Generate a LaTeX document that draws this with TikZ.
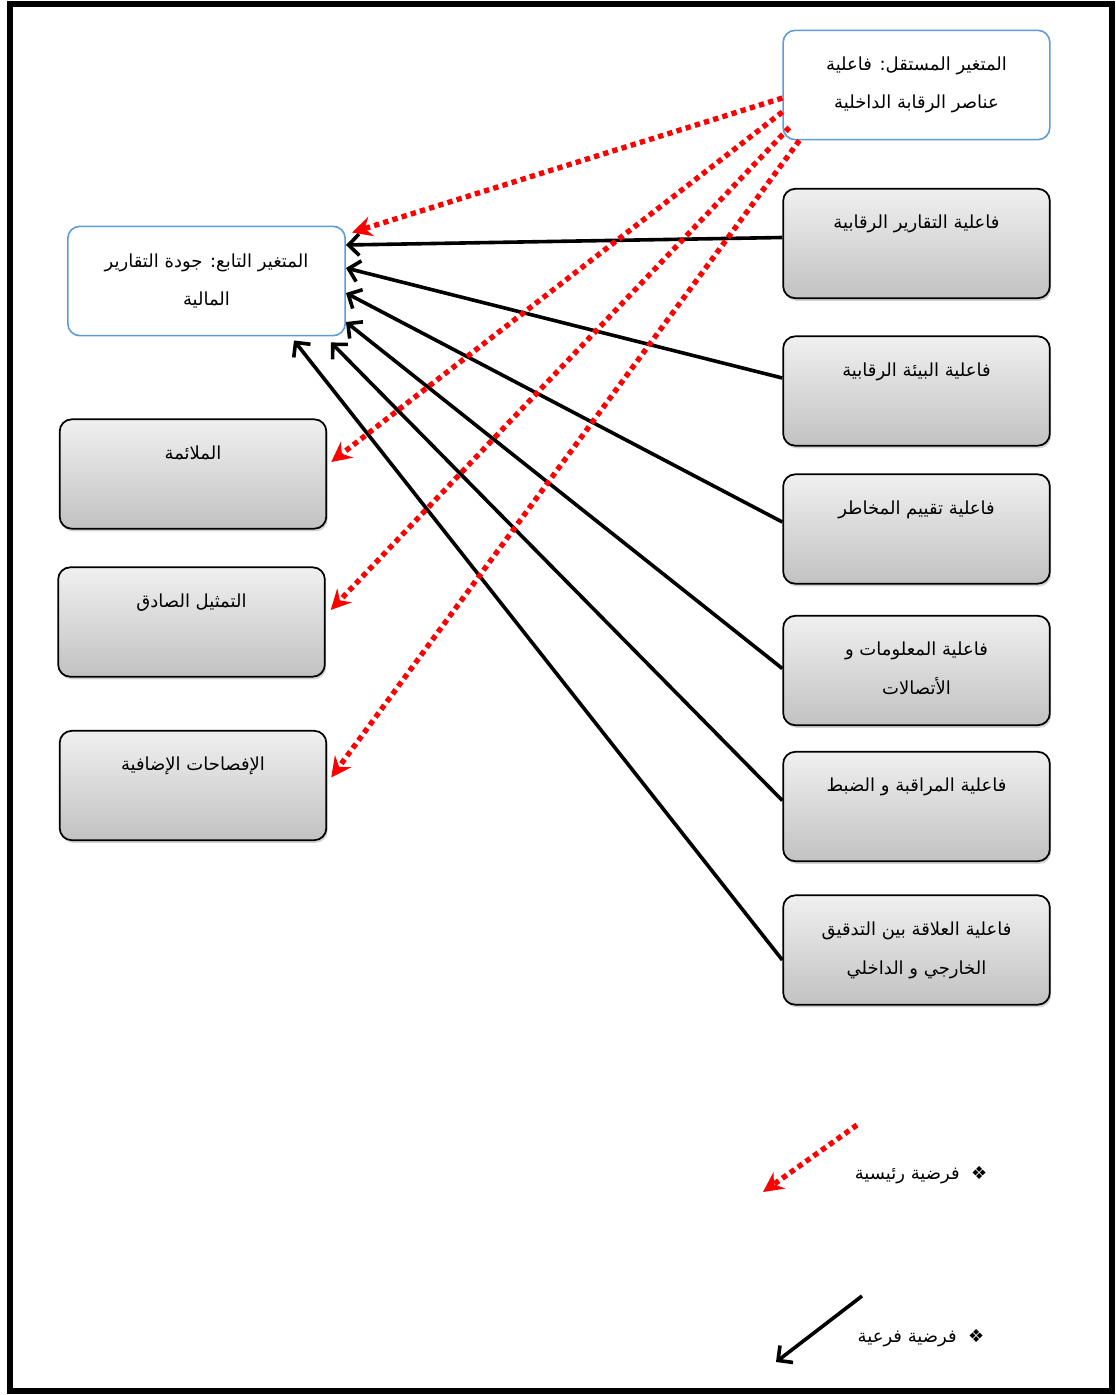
\documentclass[tikz,border=0pt]{standalone}
\usepackage{fontspec}
\usetikzlibrary{arrows.meta,calc,shadows}
\newfontfamily\arabicfont[Script=Arabic]{DejaVu Sans}
\TeXXeTstate=1
\definecolor{varblue}{RGB}{95,155,215}
\newcommand{\rl}[1]{\beginR #1\endR}
\begin{document}
\begin{tikzpicture}[x=0.75pt,y=-0.75pt,
  txt/.style={font=\arabicfont\fontsize{13.5}{29}\selectfont,align=center},
  varbox/.style={txt,draw=varblue,line width=1.2pt,rounded corners=9pt,fill=white,
    minimum height=82pt,inner sep=0pt},
  dimbox/.style={txt,draw=black,line width=1.3pt,rounded corners=9pt,
    top color=black!6,bottom color=black!24,
    drop shadow={shadow xshift=1pt,shadow yshift=-2pt,opacity=.35},
    minimum width=200pt,inner sep=0pt,text height=30pt,text depth=52pt},
  twoline/.style={text height=59pt,text depth=23pt},
  mainhyp/.style={draw=red,line width=4pt,dash pattern=on 4pt off 3.2pt,
    -{Stealth[length=15pt,width=15pt,inset=5pt]}},
  subhyp/.style={draw=black,line width=2.7pt,
    -{Straight Barb[length=8pt,width=16pt]}}]
\useasboundingbox (0,0) rectangle (1116,1395);
\draw[line width=5.2pt] (10,4) rectangle (1112,1391);

% variables
\node[varbox,minimum width=200pt] (ind) at (916.5,85)
  {\rl{المتغير المستقل: فاعلية}\\\rl{عناصر الرقابة الداخلية}};
\node[varbox,minimum width=208pt] (dep) at (206.5,281)
  {\rl{المتغير التابع: جودة التقارير}\\\rl{المالية}};

% dimensions of the independent variable
\node[dimbox] (r1) at (916.5,243.5) {\rl{فاعلية التقارير الرقابية}};
\node[dimbox] (r2) at (916.5,391) {\rl{فاعلية البيئة الرقابية}};
\node[dimbox] (r3) at (916.5,529) {\rl{فاعلية تقييم المخاطر}};
\node[dimbox,twoline] (r4) at (916.5,670.5) {\rl{فاعلية المعلومات و}\\\rl{الأتصالات}};
\node[dimbox] (r5) at (916.5,806.5) {\rl{فاعلية المراقبة و الضبط}};
\node[dimbox,twoline] (r6) at (916.5,950) {\rl{فاعلية العلاقة بين التدقيق}\\\rl{الخارجي و الداخلي}};

% dimensions of the dependent variable
\node[dimbox] (l1) at (193,474) {\rl{الملائمة}};
\node[dimbox] (l2) at (191.5,622) {\rl{التمثيل الصادق}};
\node[dimbox] (l3) at (193,785.5) {\rl{الإفصاحات الإضافية}};

% sub hypotheses
\draw[subhyp] ($(r1.west)+(0,-6)$) -- ($(dep.east)+(0,-36)$);
\draw[subhyp] ($(r2.west)+(0,-13)$) -- ($(dep.east)+(0,-13)$);
\draw[subhyp] ($(r3.west)+(0,-7)$) -- ($(dep.east)+(0,12)$);
\draw[subhyp] ($(r4.west)+(0,-2)$) -- ($(dep.east)+(0,41)$);
\draw[subhyp] ($(r5.west)+(0,-6)$) -- ($(dep.south east)+(-15,6)$);
\draw[subhyp] ($(r6.west)+(0,10)$) -- ($(dep.south east)+(-52,4)$);

% main hypotheses
\draw[mainhyp] ($(ind.west)+(0,13)$) -- ($(dep.north east)+(6,7)$);
\draw[mainhyp] ($(ind.west)+(0,27)$) -- ($(l1.east)+(4,-12)$);
\draw[mainhyp] ($(ind.south west)+(7,-13)$) -- ($(l2.east)+(5,-12)$);
\draw[mainhyp] ($(ind.south west)+(17,0)$) -- ($(l3.east)+(4,-8)$);

% key
\coordinate (k1) at (857,1125);
\coordinate (k2) at (763,1192);
\coordinate (k3) at (862,1296);
\coordinate (k4) at (776,1362);
\draw[mainhyp] (k1) -- (k2);
\draw[subhyp] (k3) -- (k4);
\node[txt] (kmain) at (921,1175) {\rl{❖\ \ فرضية رئيسية}};
\node[txt] (ksub) at (921,1338) {\rl{❖\ \ فرضية فرعية}};
\end{tikzpicture}
\end{document}
